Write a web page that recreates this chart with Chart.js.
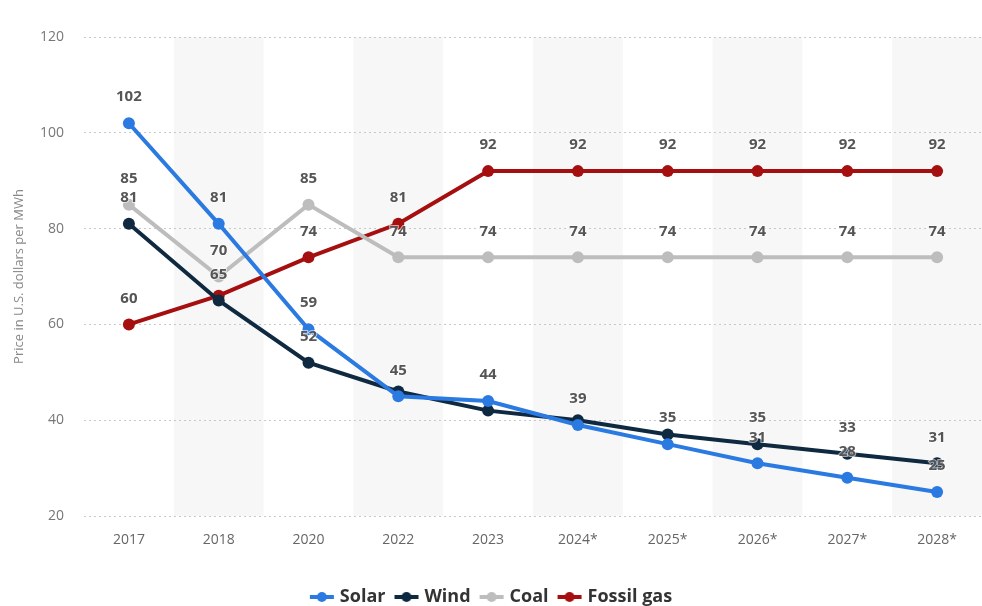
<!DOCTYPE html>
<html>
<head>
<meta charset="utf-8">
<script src="https://cdn.jsdelivr.net/npm/chart.js@4"></script>
<style>
  html, body { margin: 0; padding: 0; background: #fff; }
  #wrap { width: 982px; height: 606px; }
</style>
</head>
<body>
<div id="wrap"><canvas id="chart" width="982" height="606"></canvas></div>
<script>
const years = ['2017', '2018', '2020', '2022', '2023', '2024*', '2025*', '2026*', '2027*', '2028*'];
const solar = [102, 81, 59, 45, 44, 39, 35, 31, 28, 25];
const wind = [81, 65, 52, 46, 42, 40, 37, 35, 33, 31];
const coal = [85, 70, 85, 74, 74, 74, 74, 74, 74, 74];
const gas = [60, 66, 74, 81, 92, 92, 92, 92, 92, 92];
const yTicks = [20, 40, 60, 80, 100, 120];

// labels hidden in the original because they collide with others
const hiddenLabels = {
    'Wind': [3, 4, 5, 6],
    'Fossil gas': [1]
};

const series = [
    { label: 'Solar', data: solar, color: '#2a7ae2' },
    { label: 'Wind', data: wind, color: '#0f2940' },
    { label: 'Coal', data: coal, color: '#bdbdbd' },
    { label: 'Fossil gas', data: gas, color: '#a50f0f' }
];

// small line + dot icon for the legend
function legendIcon(color) {
    const c = document.createElement('canvas');
    c.width = 26; c.height = 12;
    const ctx = c.getContext('2d');
    ctx.strokeStyle = color;
    ctx.lineWidth = 4;
    ctx.beginPath(); ctx.moveTo(1, 6); ctx.lineTo(25, 6); ctx.stroke();
    ctx.fillStyle = color;
    ctx.beginPath(); ctx.arc(13, 6, 5, 0, Math.PI * 2); ctx.fill();
    return c;
}

const bands = {
    id: 'bands',
    beforeDraw(chart) {
        const { ctx, chartArea, scales } = chart;
        const x = scales.x;
        const step = x.width / years.length;
        ctx.save();
        ctx.fillStyle = '#f7f7f7';
        years.forEach((y, i) => {
            if (i % 2 === 1) {
                const cx = x.getPixelForValue(i);
                ctx.fillRect(cx - step / 2, chartArea.top, step, chartArea.bottom - chartArea.top);
            }
        });
        ctx.restore();
    }
};

const valueLabels = {
    id: 'valueLabels',
    afterDatasetsDraw(chart) {
        const ctx = chart.ctx;
        ctx.save();
        ctx.font = 'bold 15px "Open Sans", "DejaVu Sans", sans-serif';
        ctx.textAlign = 'center';
        ctx.textBaseline = 'middle';
        chart.data.datasets.forEach((ds, di) => {
            const meta = chart.getDatasetMeta(di);
            const hide = hiddenLabels[ds.label] || [];
            meta.data.forEach((pt, i) => {
                if (hide.includes(i)) return;
                const txt = String(ds.data[i]);
                ctx.lineWidth = 2;
                ctx.strokeStyle = 'rgba(255,255,255,0.6)';
                ctx.strokeText(txt, pt.x, pt.y - 26);
                ctx.fillStyle = '#555';
                ctx.fillText(txt, pt.x, pt.y - 26);
            });
        });
        ctx.restore();
    }
};

new Chart(document.getElementById('chart'), {
    type: 'line',
    data: {
        labels: years,
        datasets: series.map(s => ({
            label: s.label,
            data: s.data,
            borderColor: s.color,
            backgroundColor: s.color,
            borderWidth: 4,
            pointRadius: 6,
            pointHoverRadius: 6,
            pointBorderWidth: 0,
            tension: 0,
            fill: false,
            legendIcon: legendIcon(s.color)
        }))
    },
    options: {
        responsive: false,
        animation: false,
        layout: { autoPadding: false, padding: { top: 37, right: -3, left: 0, bottom: -10 } },
        scales: {
            x: {
                offset: true,
                grid: { display: false, offset: true },
                border: { display: false },
                ticks: {
                    color: '#666',
                    font: { size: 14, family: '"Open Sans", "DejaVu Sans", sans-serif' },
                    padding: 8
                },
                afterFit(scale) {
                    scale.height = 60;
                    scale.paddingLeft = 0;
                    scale.paddingRight = 0;
                }
            },
            y: {
                min: 20,
                max: 120,
                afterBuildTicks(scale) { scale.ticks = yTicks.map(v => ({ value: v })); },
                grid: {
                    color: '#c8c8c8',
                    lineWidth: 1,
                    drawTicks: false
                },
                border: { display: false, dash: [2, 3] },
                ticks: {
                    color: '#777',
                    font: { size: 14, family: '"Open Sans", "DejaVu Sans", sans-serif' },
                    padding: 20
                },
                title: {
                    display: true,
                    text: 'Price in U.S. dollars per MWh',
                    color: '#888',
                    font: { size: 13, family: '"Open Sans", "DejaVu Sans", sans-serif' },
                    padding: { top: 11, bottom: 0 }
                },
                afterFit(scale) { scale.width = 84; }
            }
        },
        plugins: {
            legend: {
                position: 'bottom',
                labels: {
                    usePointStyle: true,
                    color: '#333',
                    font: { size: 18, weight: 'bold', family: '"Open Sans", "DejaVu Sans", sans-serif' },
                    padding: 12,
                    generateLabels(chart) {
                        return chart.data.datasets.map((ds, i) => ({
                            text: ds.label,
                            fillStyle: ds.borderColor,
                            strokeStyle: ds.borderColor,
                            pointStyle: ds.legendIcon,
                            fontColor: '#333',
                            hidden: false,
                            datasetIndex: i
                        }));
                    }
                }
            },
            tooltip: { enabled: false }
        }
    },
    plugins: [bands, valueLabels]
});
</script>
</body>
</html>
